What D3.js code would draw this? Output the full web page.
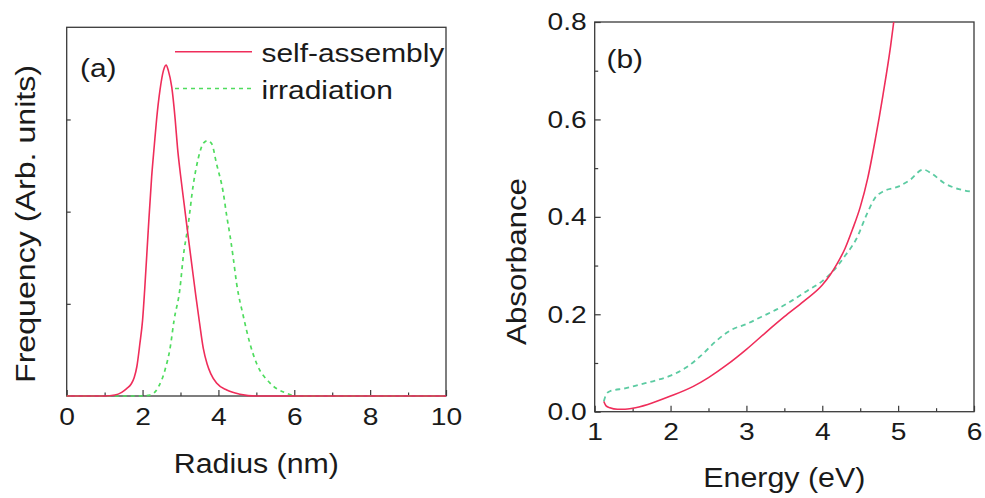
<!DOCTYPE html>
<html>
<head>
<meta charset="utf-8">
<script src="https://cdn.jsdelivr.net/npm/d3@7"></script>
<style>
  html, body { margin: 0; padding: 0; background: #fff; }
  svg { display: block; font-family: "Liberation Sans", Arial, sans-serif; }
  .axis line { stroke: #3a3a3a; stroke-width: 1.2; }
  .axis path { display: none; }
  .axis text { fill: #1a1a1a; font-size: 24.5px; font-family: "Liberation Sans", Arial, sans-serif; }
</style>
</head>
<body>
<svg id="chart" width="985" height="498"></svg>
<script>
// ---------- DATA ----------
// Panel (a): size distribution
const radiusSelf = [0, 1.0, 1.27, 1.45, 1.58, 1.7, 1.78, 1.85, 1.93, 2.0, 2.06, 2.15, 2.24, 2.31, 2.37, 2.46, 2.55, 2.62, 2.68, 2.77, 2.86, 2.92, 3.0, 3.1, 3.2, 3.3, 3.4, 3.5, 3.6, 3.7, 3.8, 3.95, 4.22, 4.57, 5.0, 10];
const freqSelf   = [0, 0, 0.01, 0.04, 0.08, 0.13, 0.2, 0.32, 0.57, 0.82, 1.18, 1.8, 2.38, 2.72, 3.0, 3.32, 3.53, 3.59, 3.53, 3.35, 3.0, 2.7, 2.4, 2.07, 1.74, 1.42, 1.1, 0.8, 0.52, 0.35, 0.24, 0.14, 0.065, 0.02, 0, 0];
const radiusIrr  = [0, 1.9, 2.2, 2.42, 2.59, 2.73, 2.83, 2.99, 3.07, 3.2, 3.34, 3.47, 3.6, 3.71, 3.82, 3.95, 4.13, 4.22, 4.31, 4.39, 4.48, 4.66, 4.83, 5.01, 5.36, 5.8, 6.1, 10];
const freqIrr    = [0, 0, 0.01, 0.1, 0.28, 0.53, 0.82, 1.18, 1.5, 1.85, 2.3, 2.58, 2.74, 2.77, 2.74, 2.52, 2.2, 1.95, 1.73, 1.5, 1.22, 0.86, 0.57, 0.35, 0.14, 0.03, 0, 0];
const radiusTicks = [0, 2, 4, 6, 8, 10];
const radiusMinor = [1, 3, 5, 7, 9];
const freqTicks = [1, 2, 3];

// Panel (b): absorbance spectra
const energySelf = [1.12, 1.15, 1.2, 1.3, 1.4, 1.5, 1.7, 2.0, 2.3, 2.5, 2.75, 3.0, 3.25, 3.5, 3.75, 4.0, 4.1, 4.2, 4.3, 4.4, 4.5, 4.6, 4.7, 4.8, 4.9, 4.95, 5.0];
const absSelf    = [0.021, 0.012, 0.008, 0.005, 0.005, 0.007, 0.015, 0.032, 0.052, 0.07, 0.097, 0.128, 0.162, 0.195, 0.226, 0.26, 0.28, 0.305, 0.335, 0.375, 0.42, 0.48, 0.56, 0.65, 0.75, 0.81, 0.87];
const energyIrr  = [1.12, 1.15, 1.2, 1.4, 1.6, 1.8, 2.0, 2.2, 2.4, 2.6, 2.8, 3.0, 3.2, 3.4, 3.6, 3.8, 4.0, 4.15, 4.3, 4.45, 4.6, 4.7, 4.8, 5.0, 5.15, 5.33, 5.45, 5.6, 5.8, 5.95];
const absIrr     = [0.021, 0.035, 0.042, 0.048, 0.056, 0.064, 0.074, 0.09, 0.115, 0.145, 0.168, 0.18, 0.195, 0.21, 0.228, 0.248, 0.268, 0.29, 0.32, 0.355, 0.41, 0.44, 0.452, 0.462, 0.475, 0.497, 0.488, 0.47, 0.457, 0.452];
const energyTicks = [1, 2, 3, 4, 5, 6];
const energyMinor = [1.5, 2.5, 3.5, 4.5, 5.5];
const absTicks = [0.0, 0.2, 0.4, 0.6, 0.8];
const absMinor = [0.1, 0.3, 0.5, 0.7];

const seriesNames = ["self-assembly", "irradiation"];

// ---------- STYLE ----------
const RED = "#ef2d5a";
const GREEN_A = "#4fdc5e";
const GREEN_B = "#5ccba2";
const STRETCH = 1.15;

const svg = d3.select("#chart");

function stretch(sel, factor) {
  sel.each(function () {
    const w = this.getComputedTextLength();
    d3.select(this).attr("textLength", w * factor).attr("lengthAdjust", "spacingAndGlyphs");
  });
}

// ---------- PANEL (a) ----------
const A = { left: 66.7, right: 446, top: 27.3, bottom: 396 };
const xa = d3.scaleLinear().domain([0, 10]).range([A.left, A.right]);
const ya = d3.scaleLinear().domain([0, 4]).range([A.bottom, A.top]);

const ga = svg.append("g");
ga.append("rect").attr("x", A.left).attr("y", A.top)
  .attr("width", A.right - A.left).attr("height", A.bottom - A.top)
  .attr("fill", "none").attr("stroke", "#3a3a3a").attr("stroke-width", 1.3);

const axA = ga.append("g").attr("class", "axis").attr("transform", `translate(0,${A.bottom})`)
  .call(d3.axisBottom(xa).tickValues(radiusTicks).tickSize(-6).tickPadding(12).tickFormat(d3.format("d")));
stretch(axA.selectAll("text"), STRETCH);
ga.append("g").attr("class", "axis").attr("transform", `translate(0,${A.bottom})`)
  .call(d3.axisBottom(xa).tickValues(radiusMinor).tickSize(-3.5).tickFormat(""));
ga.append("g").attr("class", "axis").attr("transform", `translate(${A.left},0)`)
  .call(d3.axisLeft(ya).tickValues(freqTicks).tickSize(-4).tickFormat(""));

const lineA = d3.line().x(d => xa(d[0])).y(d => ya(d[1])).curve(d3.curveMonotoneX);
ga.append("path").datum(d3.zip(radiusIrr, freqIrr))
  .attr("d", lineA).attr("fill", "none").attr("stroke", GREEN_A)
  .attr("stroke-width", 1.7).attr("stroke-dasharray", "4,4");
ga.append("path").datum(d3.zip(radiusSelf, freqSelf))
  .attr("d", lineA).attr("fill", "none").attr("stroke", RED).attr("stroke-width", 1.6);

// legend
const leg = ga.append("g");
leg.append("line").attr("x1", 175).attr("x2", 252).attr("y1", 51.7).attr("y2", 51.7)
  .attr("stroke", RED).attr("stroke-width", 1.6);
leg.append("line").attr("x1", 175).attr("x2", 252).attr("y1", 88.5).attr("y2", 88.5)
  .attr("stroke", GREEN_A).attr("stroke-width", 1.7).attr("stroke-dasharray", "4,4");
const legText = leg.selectAll("text.leg").data(seriesNames).join("text")
  .attr("class", "leg").attr("x", 261.5).attr("y", (d, i) => i === 0 ? 61.7 : 98.5)
  .attr("font-size", 26).attr("fill", "#1a1a1a").text(d => d);
stretch(legText, STRETCH);

const labA = ga.append("text").attr("x", 80).attr("y", 77).attr("font-size", 26)
  .attr("fill", "#1a1a1a").text("(a)");
stretch(labA, STRETCH);

ga.append("text").attr("x", (A.left + A.right) / 2).attr("y", 473)
  .attr("text-anchor", "middle").attr("font-size", 27).attr("fill", "#1a1a1a")
  .attr("textLength", 165).attr("lengthAdjust", "spacingAndGlyphs").text("Radius (nm)");
ga.append("text").attr("transform", "translate(35,224) rotate(-90)")
  .attr("text-anchor", "middle").attr("font-size", 27).attr("fill", "#1a1a1a")
  .attr("textLength", 318).attr("lengthAdjust", "spacingAndGlyphs").text("Frequency (Arb. units)");

// ---------- PANEL (b) ----------
const B = { left: 594.7, right: 974, top: 22, bottom: 411.7 };
const xb = d3.scaleLinear().domain([1, 6]).range([B.left, B.right]);
const yb = d3.scaleLinear().domain([0, 0.8]).range([B.bottom, B.top]);

const gb = svg.append("g");
svg.append("defs").append("clipPath").attr("id", "clipB").append("rect")
  .attr("x", B.left).attr("y", B.top).attr("width", B.right - B.left).attr("height", B.bottom - B.top);

gb.append("rect").attr("x", B.left).attr("y", B.top)
  .attr("width", B.right - B.left).attr("height", B.bottom - B.top)
  .attr("fill", "none").attr("stroke", "#3a3a3a").attr("stroke-width", 1.3);

const axBx = gb.append("g").attr("class", "axis").attr("transform", `translate(0,${B.bottom})`)
  .call(d3.axisBottom(xb).tickValues(energyTicks).tickSize(-6).tickPadding(11).tickFormat(d3.format("d")));
stretch(axBx.selectAll("text"), STRETCH);
gb.append("g").attr("class", "axis").attr("transform", `translate(0,${B.bottom})`)
  .call(d3.axisBottom(xb).tickValues(energyMinor).tickSize(-3.5).tickFormat(""));
const axBy = gb.append("g").attr("class", "axis").attr("transform", `translate(${B.left},0)`)
  .call(d3.axisLeft(yb).tickValues(absTicks).tickSize(-6).tickPadding(8).tickFormat(d3.format(".1f")));
stretch(axBy.selectAll("text"), STRETCH);
gb.append("g").attr("class", "axis").attr("transform", `translate(${B.left},0)`)
  .call(d3.axisLeft(yb).tickValues(absMinor).tickSize(-3.5).tickFormat(""));

const lineB = d3.line().x(d => xb(d[0])).y(d => yb(d[1])).curve(d3.curveMonotoneX);
const curvesB = gb.append("g").attr("clip-path", "url(#clipB)");
curvesB.append("path").datum(d3.zip(energyIrr, absIrr))
  .attr("d", lineB).attr("fill", "none").attr("stroke", GREEN_B)
  .attr("stroke-width", 1.8).attr("stroke-dasharray", "5,4");
curvesB.append("path").datum(d3.zip(energySelf, absSelf))
  .attr("d", lineB).attr("fill", "none").attr("stroke", RED).attr("stroke-width", 1.6);

const labB = gb.append("text").attr("x", 606.5).attr("y", 68).attr("font-size", 26)
  .attr("fill", "#1a1a1a").text("(b)");
stretch(labB, STRETCH);

gb.append("text").attr("x", (B.left + B.right) / 2).attr("y", 487)
  .attr("text-anchor", "middle").attr("font-size", 27).attr("fill", "#1a1a1a")
  .attr("textLength", 162).attr("lengthAdjust", "spacingAndGlyphs").text("Energy (eV)");
gb.append("text").attr("transform", "translate(526,261.5) rotate(-90)")
  .attr("text-anchor", "middle").attr("font-size", 27).attr("fill", "#1a1a1a")
  .attr("textLength", 167).attr("lengthAdjust", "spacingAndGlyphs").text("Absorbance");
</script>
</body>
</html>
